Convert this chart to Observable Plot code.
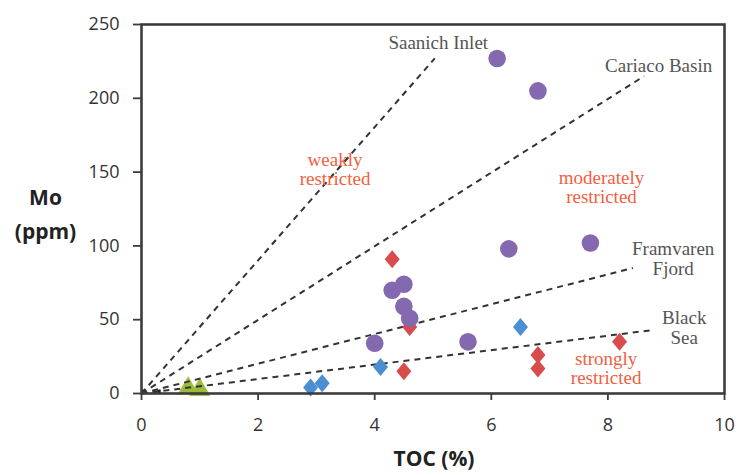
<!DOCTYPE html>
<html>
<head>
<meta charset="utf-8">
<script src="https://cdn.jsdelivr.net/npm/d3@7"></script>
<script src="https://cdn.jsdelivr.net/npm/@observablehq/plot@0.6"></script>
<style>
  html, body { margin: 0; padding: 0; background: #fff; }
</style>
</head>
<body>
<div id="chart"></div>
<script>
// ---- data ----
const xTicks = [0, 2, 4, 6, 8, 10];
const yTicks = [0, 50, 100, 150, 200, 250];

// purple circles
const circleTOC = [6.1, 6.8, 7.7, 6.3, 4.3, 4.5, 4.5, 4.6, 4.0, 5.6];
const circleMo  = [227, 205, 102, 98, 70, 74, 59, 51, 34, 35];

// red diamonds
const redTOC = [4.3, 4.6, 4.5, 6.8, 6.8, 8.2];
const redMo  = [91, 45, 15, 26, 17, 35];

// blue diamonds
const blueTOC = [6.5, 4.1, 2.9, 3.1];
const blueMo  = [45, 18, 4, 7];

// green triangles
const greenTOC = [0.8, 1.0];
const greenMo  = [3.5, 2.5];

// tiny dark markers near origin
const tinyTOC = [0.04, 0.3];
const tinyMo  = [1.5, 1.5];

// reference lines (through origin), end points
const lineNames = ["Saanich Inlet", "Cariaco Basin", "Framvaren Fjord", "Black Sea"];
const lineEndTOC = [5.03, 8.62, 8.43, 8.78];
const lineEndMo  = [227, 215, 85, 43];

// line labels
const lineLabelText = ["Saanich Inlet", "Cariaco Basin", "Framvaren\nFjord", "Black\nSea"];
const lineLabelTOC = [5.09, 8.87, 9.12, 9.31];
const lineLabelMo  = [237.5, 222.5, 91.5, 44.5];

// zone labels
const zoneText = ["weakly\nrestricted", "moderately\nrestricted", "strongly\nrestricted"];
const zoneTOC = [3.32, 7.89, 7.97];
const zoneMo  = [151.5, 139.5, 17];

// ---- build tables ----
const circles = circleTOC.map((x, i) => ({x, y: circleMo[i]}));
const reds = redTOC.map((x, i) => ({x, y: redMo[i]}));
const blues = blueTOC.map((x, i) => ({x, y: blueMo[i]}));
const greens = greenTOC.map((x, i) => ({x, y: greenMo[i]}));
const tiny = tinyTOC.map((x, i) => ({x, y: tinyMo[i]}));
const lines = lineNames.map((n, i) => ({name: n, x1: 0, y1: 0, x2: lineEndTOC[i], y2: lineEndMo[i]}));
const lineLabels = lineLabelText.map((t, i) => ({t, x: lineLabelTOC[i], y: lineLabelMo[i]}));
const zones = zoneText.map((t, i) => ({t, x: zoneTOC[i], y: zoneMo[i]}));

const diamondSym = {
  draw(ctx, size) {
    const r = Math.sqrt(size / Math.PI);
    const h = r * 1.8, w = r * 1.5;
    ctx.moveTo(0, -h); ctx.lineTo(w, 0); ctx.lineTo(0, h); ctx.lineTo(-w, 0); ctx.closePath();
  }
};

const axisColor = "#3c3c3c";
const serif = "'Liberation Serif', 'DejaVu Serif', serif";

const chart = Plot.plot({
  width: 740,
  height: 475,
  marginLeft: 141,
  marginRight: 16,
  marginTop: 24,
  marginBottom: 82,
  style: {fontFamily: "'Open Sans', sans-serif", fontSize: "18px", color: "#333", background: "#fff"},
  x: {domain: [0, 10]},
  y: {domain: [0, 250]},
  marks: [
    Plot.axisX({ticks: xTicks, tickSize: 7, tickPadding: 18, fontSize: 18, label: null, stroke: axisColor, strokeWidth: 1.8, fill: "#333"}),
    Plot.axisY({ticks: yTicks, tickSize: 8, tickPadding: 14, fontSize: 18, label: null, stroke: axisColor, strokeWidth: 1.8, fill: "#333"}),
    Plot.dot(greens, {x: "x", y: "y", symbol: "triangle", r: 7.5, fill: "#9bbb3a", stroke: "#9bbb3a", strokeWidth: 0.5}),
    Plot.dot(tiny, {x: "x", y: "y", symbol: "square", r: 2, fill: "#222"}),
    Plot.link(lines, {x1: "x1", y1: "y1", x2: "x2", y2: "y2", stroke: "#333", strokeWidth: 2, strokeDasharray: "6,5"}),
    Plot.dot(reds, {x: "x", y: "y", symbol: diamondSym, r: 5, fill: "#d94c4c"}),
    Plot.dot(blues, {x: "x", y: "y", symbol: diamondSym, r: 5, fill: "#4a8fd2"}),
    Plot.dot(circles, {x: "x", y: "y", r: 8.8, fill: "#8468b0"}),
    Plot.text(lineLabels, {x: "x", y: "y", text: "t", fontFamily: serif, fontSize: 19, fill: "#555", lineHeight: 1.07, textAnchor: "middle"}),
    Plot.text(zones, {x: "x", y: "y", text: "t", fontFamily: serif, fontSize: 19, fill: "#f2603f", lineHeight: 1.0, textAnchor: "middle"}),
    Plot.frame({stroke: axisColor, strokeWidth: 2.6}),
    Plot.text(["Mo\n(ppm)"], {frameAnchor: "left", dx: -96, dy: 2, text: d => d, fontWeight: "bold", fontSize: 21, fill: "#222", lineHeight: 1.6, textAnchor: "middle"}),
    Plot.text(["TOC (%)"], {frameAnchor: "bottom", dy: 72, dx: 1, text: d => d, fontWeight: "bold", fontSize: 21, fill: "#222", textAnchor: "middle"})
  ]
});
document.getElementById("chart").appendChild(chart);
</script>
</body>
</html>
